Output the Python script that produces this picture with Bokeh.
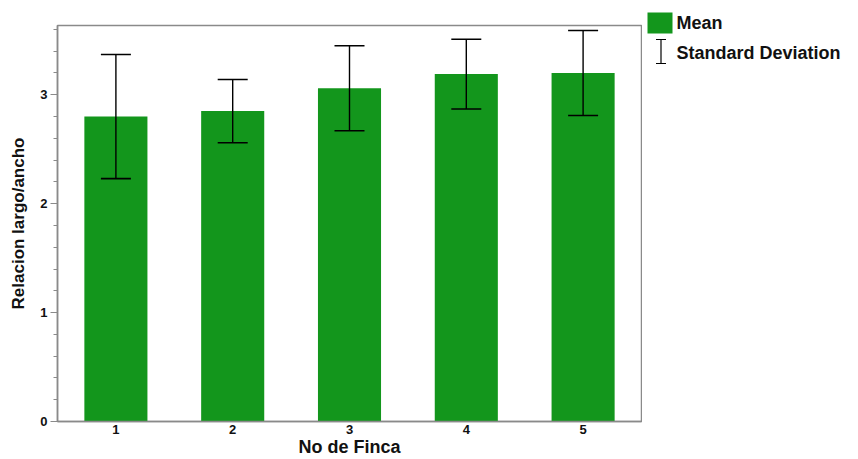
from bokeh.plotting import figure
from bokeh.models import (ColumnDataSource, Range1d, Whisker, TeeHead, SingleIntervalTicker,
                          FixedTicker)
from bokeh.layouts import row, column
from bokeh.embed import file_html
from bokeh.resources import INLINE
from bokeh.core.properties import value

# ---- data ----
fincas = [1, 2, 3, 4, 5]
means = [2.80, 2.85, 3.06, 3.19, 3.20]
sds = [0.57, 0.29, 0.39, 0.32, 0.39]
x_tick_labels = ["1", "2", "3", "4", "5"]
y_ticks = [0, 1, 2, 3]
legend_labels = ["Mean", "Standard Deviation"]
x_title = "No de Finca"
y_title = "Relacion largo/ancho"

GREEN = "#13961c"
GREY = "#8a8a8a"
FONT = "Liberation Sans"

src = ColumnDataSource(dict(
    x=fincas, top=means,
    lower=[m - s for m, s in zip(means, sds)],
    upper=[m + s for m, s in zip(means, sds)],
))

p = figure(width=642, height=459, x_range=Range1d(0.5, 5.5), y_range=Range1d(0, 3.636),
           output_backend="svg", toolbar_location=None, title=None,
           min_border_left=57, min_border_right=1, min_border_top=25, min_border_bottom=38)

p.vbar(x="x", top="top", width=0.54, source=src, fill_color=GREEN, line_color=None)
wh = Whisker(base="x", lower="lower", upper="upper", source=src,
             line_color="black", line_width=1.4, level="overlay",
             upper_head=TeeHead(size=30, line_color="black", line_width=1.6),
             lower_head=TeeHead(size=30, line_color="black", line_width=1.6))
p.add_layout(wh)

p.xgrid.visible = False
p.ygrid.visible = False
p.outline_line_color = GREY
p.outline_line_width = 1.5
p.background_fill_color = "white"
p.border_fill_color = "white"

xa = p.xaxis[0]
xa.ticker = FixedTicker(ticks=fincas)
xa.major_label_overrides = {f: l for f, l in zip(fincas, x_tick_labels)}
xa.major_tick_out = 0
xa.major_tick_in = 0
xa.minor_tick_out = 0
xa.minor_tick_in = 0
xa.axis_line_color = GREY
xa.axis_line_width = 1.5
xa.major_label_standoff = 3
xa.major_label_text_font = FONT
xa.major_label_text_font_style = "bold"
xa.major_label_text_font_size = "13px"
xa.major_label_text_color = "#111111"
xa.axis_label = x_title
xa.axis_label_text_font = FONT
xa.axis_label_text_font_style = "bold"
xa.axis_label_text_font_size = "18px"
xa.axis_label_text_color = "#111111"
xa.axis_label_standoff = 0

ya = p.yaxis[0]
ya.ticker = SingleIntervalTicker(interval=1, num_minor_ticks=5)
ya.major_tick_out = 7
ya.major_tick_in = 0
ya.minor_tick_out = 4
ya.minor_tick_in = 0
ya.major_tick_line_color = GREY
ya.minor_tick_line_color = GREY
ya.axis_line_color = GREY
ya.axis_line_width = 1.5
ya.major_label_standoff = 3
ya.major_label_text_font = FONT
ya.major_label_text_font_style = "bold"
ya.major_label_text_font_size = "13px"
ya.major_label_text_color = "#111111"
ya.axis_label = y_title
ya.axis_label_text_font = FONT
ya.axis_label_text_font_style = "bold"
ya.axis_label_text_font_size = "17px"
ya.axis_label_text_color = "#111111"
ya.axis_label_standoff = 9

# ---- legend panel ----
leg = figure(width=216, height=459, x_range=Range1d(0, 216), y_range=Range1d(459, 0),
             output_backend="svg", toolbar_location=None, title=None,
             x_axis_location=None, y_axis_location=None,
             min_border=0, outline_line_color=None)
leg.grid.visible = False
leg.quad(left=[5], right=[30], top=[12], bottom=[33], fill_color=GREEN, line_color=None)
leg.segment(x0=[18.5], y0=[39], x1=[18.5], y1=[63], line_color="black", line_width=1.2)
leg.segment(x0=[13.5, 13.5], y0=[39, 63], x1=[23.5, 23.5], y1=[39, 63],
            line_color="black", line_width=1.2)
leg.text(x=[34, 34], y=[22, 52], text=legend_labels, text_baseline="middle",
         text_font=value(FONT), text_font_style="bold", text_font_size="18px",
         text_color="#111111")

layout = row(p, column(leg))
open("out.html", "w").write(file_html(layout, INLINE))
